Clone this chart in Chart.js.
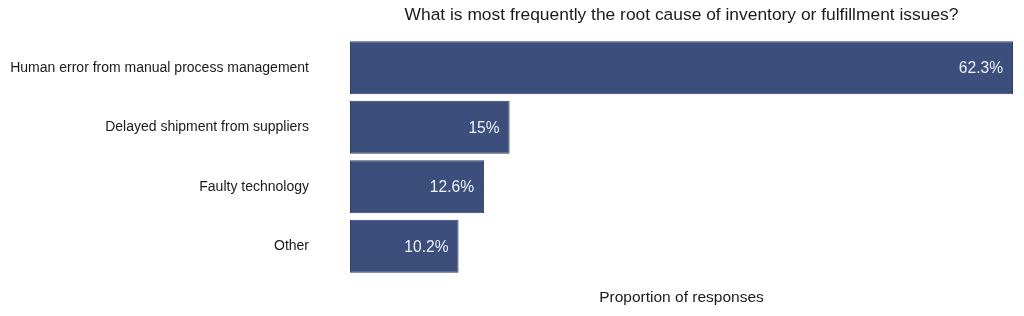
<!DOCTYPE html>
<html lang="en">
<head>
  <meta charset="UTF-8">
  <title>Root cause of inventory issues</title>
  <script src="https://cdn.jsdelivr.net/npm/chart.js"></script>
  <style>
    body { margin: 0; padding: 0; background: #fff; }
    .wrap { width: 1024px; height: 316px; }
  </style>
</head>
<body>
  <div class="wrap"><canvas id="grafico" width="1024" height="316"></canvas></div>
  <script>
    // Data
    const causes = [
      'Human error from manual process management',
      'Delayed shipment from suppliers',
      'Faulty technology',
      'Other'
    ];
    const shares = [62.3, 15, 12.6, 10.2];
    const valueLabels = ['62.3%', '15%', '12.6%', '10.2%'];
    const chartTitle = 'What is most frequently the root cause of inventory or fulfillment issues?';
    const axisTitle = 'Proportion of responses';

    const FONT = '"Liberation Sans", Arial, sans-serif';
    const barColor = '#3c4e7b';

    // title centred over the plot area, not the whole canvas
    const titlePlugin = {
      id: 'topTitle',
      afterDraw(chart) {
        const ctx = chart.ctx;
        const area = chart.chartArea;
        ctx.save();
        ctx.font = '17.4px ' + FONT;
        ctx.fillStyle = '#1a1a1a';
        ctx.textAlign = 'center';
        ctx.textBaseline = 'middle';
        ctx.fillText(chartTitle, (area.left + area.right) / 2, 15);
        ctx.restore();
      }
    };

    // value labels inside the end of each bar
    const valuePlugin = {
      id: 'valueLabels',
      afterDatasetsDraw(chart) {
        const ctx = chart.ctx;
        const meta = chart.getDatasetMeta(0);
        ctx.save();
        ctx.font = '15.6px ' + FONT;
        ctx.fillStyle = '#eef1f8';
        ctx.textAlign = 'right';
        ctx.textBaseline = 'middle';
        meta.data.forEach((bar, i) => {
          ctx.fillText(valueLabels[i], bar.x - 10, bar.y + 1);
        });
        ctx.restore();
      }
    };

    new Chart(document.getElementById('grafico'), {
      type: 'bar',
      data: {
        labels: causes,
        datasets: [{
          data: shares,
          backgroundColor: barColor,
          borderColor: '#303f66',
          borderWidth: 1,
          borderSkipped: false,
          barPercentage: 0.89,
          categoryPercentage: 1
        }]
      },
      options: {
        indexAxis: 'y',
        responsive: false,
        animation: false,
        layout: { padding: { top: 38, right: 11, left: 0, bottom: 0 } },
        plugins: {
          legend: { display: false },
          tooltip: { enabled: false }
        },
        scales: {
          x: {
            min: 0,
            max: 62.3,
            grid: { display: false, drawTicks: false },
            border: { display: false },
            ticks: { display: false },
            title: {
              display: true,
              text: axisTitle,
              color: '#1a1a1a',
              font: { family: FONT, size: 15.5 },
              padding: { top: 13, bottom: 9 }
            },
            afterFit(scale) { scale.height = 40; }
          },
          y: {
            // invisible tick marks make the gap between labels and bars
            grid: {
              display: true,
              drawOnChartArea: false,
              drawTicks: true,
              tickLength: 41,
              color: 'rgba(0,0,0,0)'
            },
            border: { display: false },
            ticks: {
              color: '#1a1a1a',
              font: { family: FONT, size: 14 },
              padding: 0
            },
            afterFit(scale) { scale.width = 350; }
          }
        }
      },
      plugins: [titlePlugin, valuePlugin]
    });
  </script>
</body>
</html>
